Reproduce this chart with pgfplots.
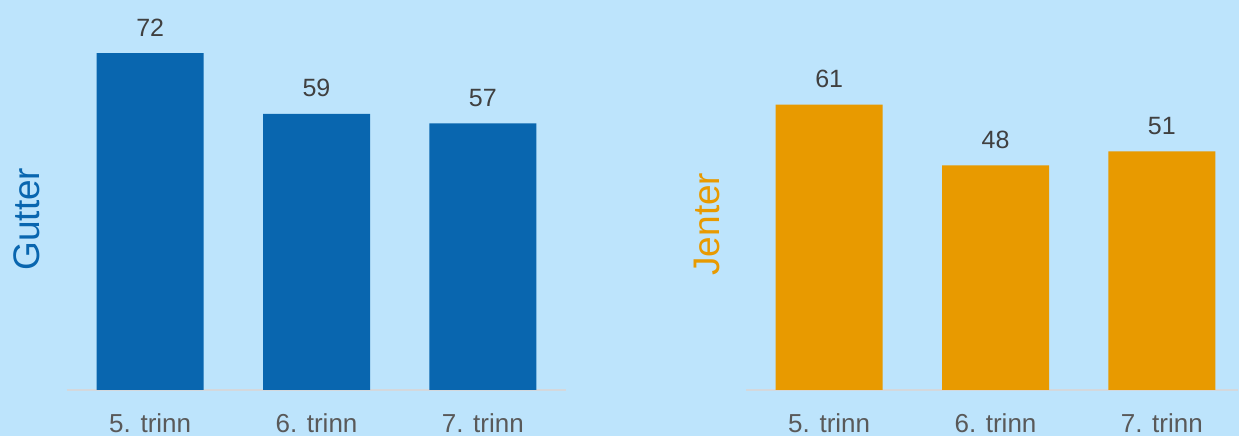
\documentclass[border=0pt]{standalone}
\usepackage{pgfplots}
\pgfplotsset{compat=1.18}
\usepackage{fontspec}
\setmainfont{Liberation Sans}
\definecolor{bg}{HTML}{BDE4FC}
\definecolor{boys}{HTML}{0966AF}
\definecolor{girls}{HTML}{E89A00}
\definecolor{numtxt}{HTML}{404040}
\definecolor{ticktxt}{HTML}{595959}
\definecolor{baseln}{HTML}{D4D8DC}
\pgfplotsset{
  mybar/.style={
    scale only axis, clip=false,
    width=499pt, height=388.4pt,
    ymin=0, ymax=83,
    xmin=-0.5, xmax=2.5,
    axis y line=none,
    axis x line*=bottom,
    x axis line style={draw=baseln, line width=1.5pt, -},
    xtick={0,1,2},
    xticklabels={5. trinn,6. trinn,7. trinn},
    xtick style={draw=none},
    xticklabel style={font=\fontsize{26}{30}\selectfont, text=ticktxt, anchor=base, inner sep=0pt, yshift=-42pt},
    ytick=\empty,
    nodes near coords,
    every node near coord/.append style={font=\fontsize{25}{29}\selectfont, text=numtxt, anchor=base, inner sep=0pt, yshift=17pt},
    /pgf/number format/assume math mode=true,
  }
}
\begin{document}
\begin{tikzpicture}[x=1pt,y=1pt]
\fill[bg] (0,0) rectangle (1239,436);
\useasboundingbox (0,0) rectangle (1239,436);
\begin{axis}[mybar, at={(67pt,46pt)}, anchor=south west]
\addplot[ybar, bar width=107pt, fill=boys, draw=none] coordinates {(0,72) (1,59) (2,57)};
\node[rotate=90, font=\fontsize{37}{40}\selectfont, text=boys] at (axis description cs:-0.080,0.44) {Gutter};
\end{axis}
\begin{axis}[mybar, at={(746pt,46pt)}, anchor=south west, xmax=2.458, width=492pt]
\addplot[ybar, bar width=107pt, fill=girls, draw=none] coordinates {(0,61) (1,48) (2,51)};
\node[rotate=90, font=\fontsize{37}{40}\selectfont, text=girls] at (axis description cs:-0.079,0.427) {Jenter};
\end{axis}
\end{tikzpicture}
\end{document}
